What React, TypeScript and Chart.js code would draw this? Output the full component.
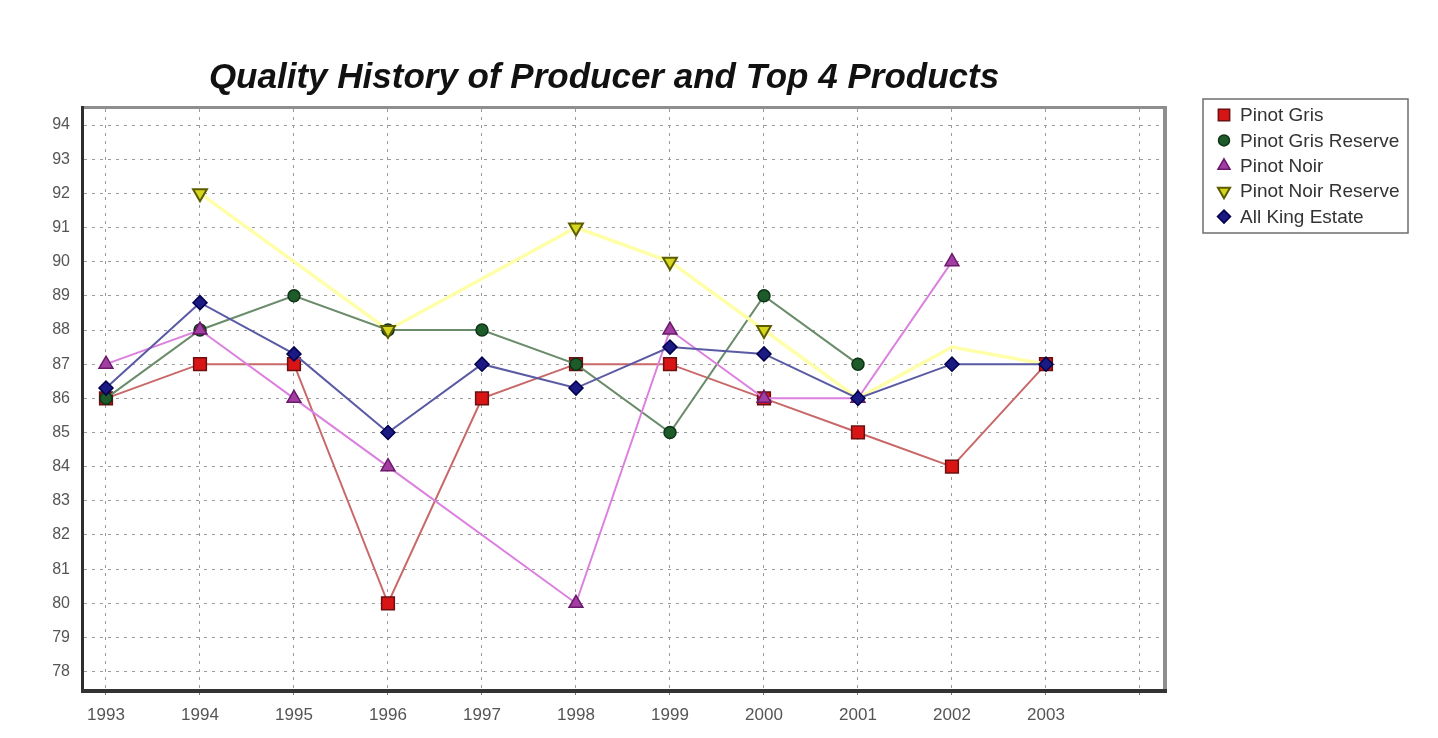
import React, { useEffect, useRef } from 'react';
import { Chart, registerables } from 'chart.js';
import { drawPoint } from 'chart.js/helpers';

Chart.register(...registerables);

const TITLE = 'Quality History of Producer and Top 4 Products';

const YEARS = [1993, 1994, 1995, 1996, 1997, 1998, 1999, 2000, 2001, 2002, 2003];
const X_GRID_TICKS = [1993, 1994, 1995, 1996, 1997, 1998, 1999, 2000, 2001, 2002, 2003, 2004];
const Y_TICKS = [78, 79, 80, 81, 82, 83, 84, 85, 86, 87, 88, 89, 90, 91, 92, 93, 94];

const SERIES_NAMES = ['Pinot Gris', 'Pinot Gris Reserve', 'Pinot Noir', 'Pinot Noir Reserve', 'All King Estate'];

const pinotGris = [86, 87, 87, 80, 86, 87, 87, 86, 85, 84, 87];
const pinotGrisReserve = [86, 88, 89, 88, 88, 87, 85, 89, 87, null, null];
const pinotNoir = [87, 88, 86, 84, null, 80, 88, 86, 86, 90, null];
const pinotNoirReserve = [null, 92, 90, 88, 89.5, 91, 90, 88, 86, 87.5, 87];
const pinotNoirReserveMarked = [1994, 1996, 1998, 1999, 2000];
const allKingEstate = [86.3, 88.8, 87.3, 85, 87, 86.3, 87.5, 87.3, 86, 87, 87];

const SANS = '"Liberation Sans", Arial, sans-serif';

const toPoints = (arr: (number | null)[]) => YEARS.map((x, i) => ({ x, y: arr[i] }));

const framePlugin = {
  id: 'frame',
  afterDatasetsDraw(chart: any) {
    const { ctx, chartArea: a } = chart;
    const line = (x1: number, y1: number, x2: number, y2: number) => {
      ctx.beginPath();
      ctx.moveTo(x1, y1);
      ctx.lineTo(x2, y2);
      ctx.stroke();
    };
    ctx.save();
    ctx.lineCap = 'butt';
    ctx.strokeStyle = '#8e8e8e';
    ctx.lineWidth = 3;
    line(a.left - 3, a.top - 1.5, a.right + 4, a.top - 1.5);
    ctx.lineWidth = 4;
    line(a.right + 2, a.top - 3, a.right + 2, a.bottom + 4);
    ctx.strokeStyle = '#2e2e2e';
    ctx.lineWidth = 3;
    line(a.left - 1.5, a.top - 3, a.left - 1.5, a.bottom + 4);
    ctx.strokeStyle = '#333333';
    ctx.lineWidth = 4;
    line(a.left - 3, a.bottom + 2, a.right + 4, a.bottom + 2);
    ctx.restore();
  },
};

const titlePlugin = {
  id: 'customTitle',
  afterDraw(chart: any) {
    const { ctx } = chart;
    ctx.save();
    ctx.font = `italic bold 35px ${SANS}`;
    ctx.fillStyle = '#111';
    ctx.textAlign = 'center';
    ctx.textBaseline = 'middle';
    ctx.fillText(TITLE, 596, 70);
    ctx.restore();
  },
};

const legendPlugin = {
  id: 'boxLegend',
  afterDraw(chart: any) {
    const { ctx } = chart;
    const boxX = 1195, boxY = 91, boxW = 205, boxH = 134;
    ctx.save();
    ctx.fillStyle = '#ffffff';
    ctx.fillRect(boxX, boxY, boxW, boxH);
    ctx.strokeStyle = '#6e6e6e';
    ctx.lineWidth = 1.5;
    ctx.strokeRect(boxX, boxY, boxW, boxH);
    chart.data.datasets.forEach((ds: any, i: number) => {
      const cy = 107 + i * 25.4;
      ctx.fillStyle = ds.pointBackgroundColor;
      ctx.strokeStyle = ds.pointBorderColor;
      ctx.lineWidth = ds.pointBorderWidth;
      drawPoint(ctx, {
        pointStyle: ds.pointStyle,
        rotation: ds.pointRotation || 0,
        radius: ds.legendRadius,
        borderWidth: ds.pointBorderWidth,
      } as any, 1216, cy);
      ctx.fillStyle = '#333';
      ctx.font = `19px ${SANS}`;
      ctx.textAlign = 'left';
      ctx.textBaseline = 'middle';
      ctx.fillText(ds.label, 1232, cy + 1);
    });
    ctx.restore();
  },
};

export default function App() {
  const ref = useRef<HTMLCanvasElement | null>(null);

  useEffect(() => {
    if (!ref.current) return;
    const chart = new Chart(ref.current, {
      type: 'line',
      data: {
        datasets: [
          {
            label: SERIES_NAMES[0],
            data: toPoints(pinotGris),
            borderColor: '#c86868',
            borderWidth: 2,
            pointStyle: 'rect',
            pointRadius: 9,
            legendRadius: 8,
            pointBackgroundColor: '#d81414',
            pointBorderColor: '#6a1010',
            pointBorderWidth: 1.5,
            order: 4,
          },
          {
            label: SERIES_NAMES[1],
            data: toPoints(pinotGrisReserve),
            borderColor: '#6a8c6a',
            borderWidth: 2,
            pointStyle: 'circle',
            pointRadius: 6,
            legendRadius: 5.5,
            pointBackgroundColor: '#1d5c2a',
            pointBorderColor: '#0e3316',
            pointBorderWidth: 1.5,
            order: 3,
          },
          {
            label: SERIES_NAMES[2],
            data: toPoints(pinotNoir),
            borderColor: '#dc80e0',
            borderWidth: 2,
            pointStyle: 'triangle',
            pointRadius: 8,
            legendRadius: 7,
            pointBackgroundColor: '#a23ea2',
            pointBorderColor: '#6a1a6a',
            pointBorderWidth: 1.5,
            order: 2,
          },
          {
            label: SERIES_NAMES[3],
            data: toPoints(pinotNoirReserve),
            borderColor: '#ffffaa',
            borderWidth: 3.5,
            pointStyle: 'triangle',
            pointRotation: 180,
            pointRadius: (c: any) => (pinotNoirReserveMarked.includes(YEARS[c.dataIndex]) ? 8 : 0),
            legendRadius: 7,
            pointBackgroundColor: '#d6d61e',
            pointBorderColor: '#5c5c00',
            pointBorderWidth: 2,
            order: 1,
          },
          {
            label: SERIES_NAMES[4],
            data: toPoints(allKingEstate),
            borderColor: '#5a5aa4',
            borderWidth: 2,
            pointStyle: 'rectRot',
            pointRadius: 7,
            legendRadius: 6.5,
            pointBackgroundColor: '#1a1a82',
            pointBorderColor: '#00004e',
            pointBorderWidth: 1.5,
            order: 0,
          },
        ] as any,
      },
      options: {
        responsive: false,
        animation: false,
        events: [],
        spanGaps: true,
        layout: { padding: { left: 0, right: 267, top: 101, bottom: 0 } },
        plugins: {
          legend: { display: false },
          title: { display: false },
          tooltip: { enabled: false },
        },
        scales: {
          x: {
            type: 'linear',
            min: 1992.766,
            max: 2004.245,
            afterBuildTicks: (s: any) => {
              s.ticks = X_GRID_TICKS.map((v) => ({ value: v }));
            },
            afterFit: (s: any) => {
              s.height = 41;
            },
            ticks: {
              autoSkip: false,
              maxRotation: 0,
              padding: 10,
              color: '#555',
              font: { family: SANS, size: 17 },
              callback: (v: any) => (YEARS.includes(Number(v)) ? String(v) : ''),
            },
            grid: {
              color: '#9a9a9a',
              lineWidth: 1,
              tickColor: '#777',
              tickLength: 6,
              tickBorderDash: [],
            },
            border: { display: false, dash: [3, 5] },
          },
          y: {
            type: 'linear',
            min: 77.49,
            max: 94.47,
            afterBuildTicks: (s: any) => {
              s.ticks = Y_TICKS.map((v) => ({ value: v }));
            },
            afterFit: (s: any) => {
              s.width = 76;
            },
            ticks: {
              padding: 14,
              color: '#555',
              font: { family: SANS, size: 16 },
              callback: (v: any) => String(v),
            },
            grid: { color: '#9a9a9a', lineWidth: 1, drawTicks: false },
            border: { display: false, dash: [3, 5] },
          },
        },
      } as any,
      plugins: [framePlugin, titlePlugin, legendPlugin],
    });
    return () => chart.destroy();
  }, []);

  return (
    <div style={{ background: '#fff' }}>
      <canvas ref={ref} width={1422} height={722} style={{ display: 'block' }} />
    </div>
  );
}
